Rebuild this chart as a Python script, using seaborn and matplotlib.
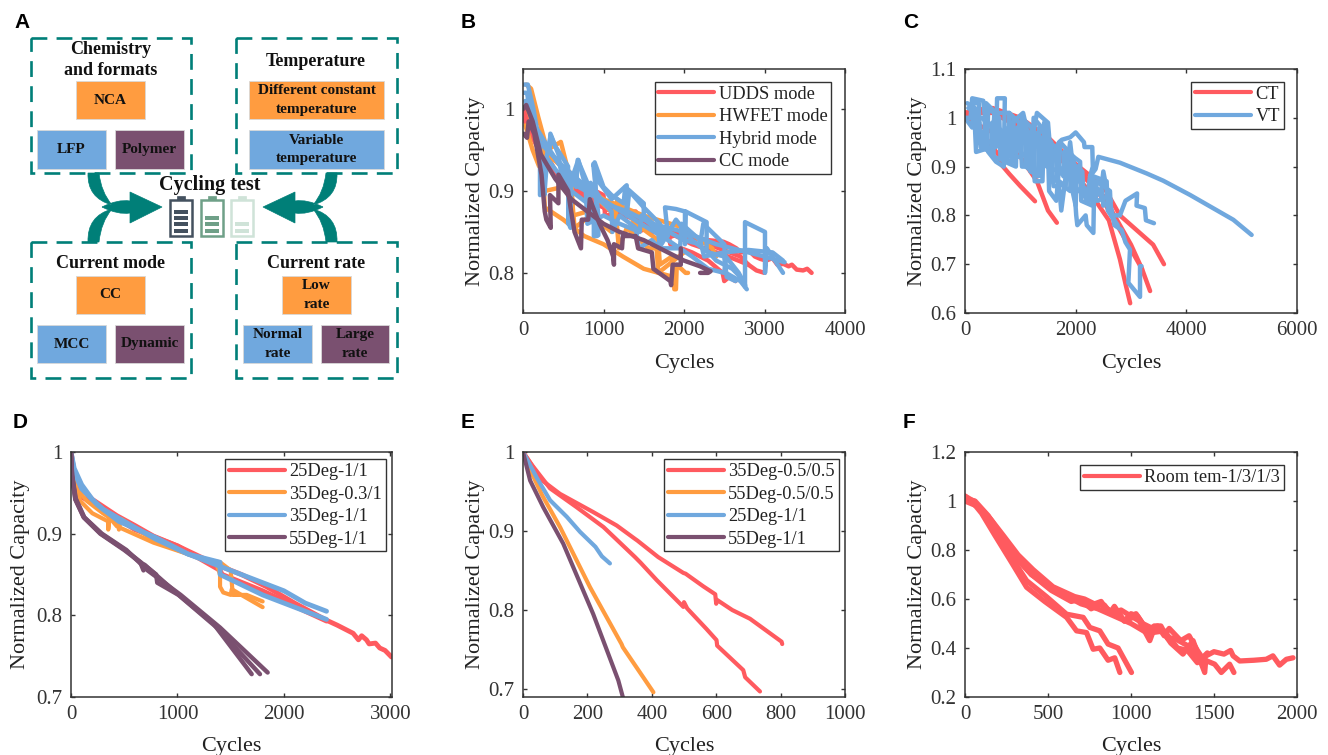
import matplotlib
matplotlib.use("Agg")
import matplotlib.pyplot as plt
from matplotlib.patches import Rectangle, PathPatch
from matplotlib.path import Path
import seaborn as sns

# ---- colours
RED = "#FF5A5F"
ORANGE = "#FF9C40"
BLUE = "#70A8DE"
PURPLE = "#7A5070"
TEAL = "#007F78"

# ---- panel B: capacity fade, drive cycle modes
udds_runs = [
    ([0, 100, 250, 500, 800, 1200, 1600, 2000, 2300, 2490, 2560, 2650, 2700, 2820, 2880, 2950, 3020, 3100, 3160, 3234, 3300, 3340, 3400, 3480, 3530, 3585],
     [1.0, .975, .94, .915, .895, .875, .86, .845, .84, .838, .835, .83, .825, .826, .82, .817, .815, .818, .81, .811, .808, .81, .804, .803, .805, .80]),
    ([0, 120, 300, 600, 1000, 1400, 1800, 2100, 2400, 2600, 2800, 2900, 3000],
     [.99, .965, .93, .90, .88, .865, .85, .835, .825, .818, .81, .803, .80]),
    ([20, 150, 400, 800, 1200, 1350, 1380, 1600, 1800, 1830, 2100, 2300, 2480, 2500, 2560, 2640],
     [1.0, .97, .925, .89, .87, .875, .86, .85, .85, .835, .825, .815, .80, .79, .795, .79]),
    ([900, 1000, 1020, 1400, 1420, 1700, 1720, 2000, 2300, 2700, 2800],
     [.90, .895, .87, .875, .85, .86, .84, .85, .835, .82, .81]),
]
hwfet_runs = [
    ([40, 100, 190, 300, 470, 560, 700, 1000, 1500, 2000, 2200, 2350, 2400],
     [1.03, 1.025, .99, .95, .96, .925, .91, .89, .87, .855, .84, .83, .82]),
    ([30, 120, 200, 240, 270, 500, 760, 1000, 1240, 1500, 1870, 1880, 1900, 1910, 2020, 2050],
     [.98, .95, .93, .95, .88, .865, .845, .835, .82, .805, .795, .78, .78, .81, .80, .80]),
    ([60, 260, 270, 500, 610, 640, 840, 1100, 1150, 1190, 1290, 1560, 1660, 1680, 2000],
     [1.0, .94, .90, .905, .89, .855, .87, .85, .88, .83, .855, .83, .83, .80, .825]),
    ([150, 300, 600, 620, 800, 820, 1150, 1170, 1400, 1680, 1700, 1850, 1870],
     [.98, .945, .92, .87, .875, .90, .87, .89, .86, .84, .81, .82, .79]),
]
hybrid_runs = [
    ([10, 60, 130, 200, 330, 340, 400, 560, 570, 590, 600, 660, 680, 800, 840, 880, 880, 920, 890, 1000, 1100, 1250, 1270, 1500, 1500,
      1800, 1764, 1900, 2012, 2012, 2020, 2281, 2281, 2400, 2600, 2750, 2758, 2758, 3006, 3006, 3030, 3230],
     [1.03, 1.03, 1.0, .96, .95, .97, .955, .93, .86, .855, .92, .905, .938, .91, .885, .86, .845, .845, .935, .905, .895, .885, .905, .885, .87,
      .845, .88, .878, .875, .835, .875, .862, .828, .815, .805, .79, .783, .862, .85, .80, .83, .80]),
    ([5, 50, 100, 200, 250, 265, 300, 450, 600, 800, 840, 1000, 1100, 1110, 1200, 1400, 1440, 1600, 1700, 1720, 2000, 2200, 2240, 2500, 2520, 2700, 2780],
     [1.02, 1.02, .99, .95, .93, .895, .94, .92, .90, .885, .91, .885, .875, .85, .87, .855, .83, .84, .83, .855, .84, .835, .86, .835, .80, .79, .78]),
    ([30, 150, 300, 500, 800, 1000, 1300, 1600, 2000, 2400, 2800, 3000, 3250],
     [1.01, .98, .955, .925, .90, .885, .875, .86, .85, .835, .825, .82, .813]),
    ([200, 500, 900, 1300, 1800, 2100, 2300, 2500, 2520, 2680, 2760],
     [.96, .93, .895, .87, .84, .82, .805, .80, .82, .80, .785]),
    ([100, 211, 211, 300, 344, 440, 470, 563, 563, 590, 687, 780, 800, 936, 936, 873, 950, 1100, 1288, 1288, 1320, 1500, 1700, 1720, 1900, 2100, 2300, 2500, 2530, 2640],
     [.99, .955, .895, .945, .968, .945, .925, .91, .86, .91, .938, .905, .88, .846, .87, .933, .91, .89, .907, .87, .90, .88, .86, .835, .865, .84, .825, .82, .795, .79]),
    ([400, 600, 780, 800, 1000, 1200, 1450, 1470, 1680, 1700, 1950, 1970, 2200, 2250, 2500, 2800, 3100, 3230],
     [.94, .91, .90, .86, .87, .86, .85, .87, .85, .83, .83, .86, .84, .82, .825, .828, .825, .815]),
]
cc_runs = [
    ([10, 50, 70, 140, 230, 270, 290, 345, 335, 440, 440, 560, 590, 640, 720, 730, 810, 830, 950, 1050, 1120, 1130, 1130, 1230, 1240,
      1400, 1430, 1600, 1620, 1830, 1840, 1860, 1960, 1960],
     [.97, .965, .985, .97, .92, .875, .865, .855, .895, .885, .92, .90, .88, .85, .83, .865, .865, .89, .86, .84, .82, .81, .835, .83, .845,
      .845, .83, .825, .805, .79, .785, .81, .81, .83]),
    ([0, 40, 120, 220, 400, 600, 800, 1000, 1200, 1500, 1800, 2000, 2200, 2330, 2300, 2200],
     [1.0, 1.005, .985, .945, .915, .89, .875, .86, .85, .84, .825, .815, .808, .802, .80, .80]),
]

# ---- panel C: temperature
ct_runs = [
    ([0, 300, 600, 650, 800, 1000, 1265], [1.0, .97, .925, .905, .885, .86, .829]),
    ([0, 500, 1000, 1300, 1400, 1500, 1660], [1.0, .97, .92, .87, .84, .81, .785]),
    ([0, 500, 1000, 1500, 2000, 2300, 2600, 2800, 2900, 2985], [1.01, 1.01, .98, .94, .885, .84, .79, .71, .66, .62]),
    ([0, 400, 1000, 1500, 2000, 2500, 2800, 3000, 3200, 3345], [1.01, 1.02, .99, .95, .90, .84, .78, .74, .69, .645]),
    ([0, 500, 1000, 1500, 2000, 2500, 2800, 3100, 3400, 3596], [1.0, 1.02, 1.0, .96, .905, .86, .80, .77, .74, .70]),
    ([0, 450, 1000, 1500, 2000, 2400, 2700, 2950, 3200], [1.01, 1.015, .985, .945, .895, .85, .79, .74, .69]),
]
vt_runs = [
    ([0, 100, 130, 330, 360, 340, 200, 180, 300, 420, 560, 700, 720, 580, 560, 850, 1050, 1150, 1130, 1300, 1500, 1550, 1700, 1750, 1900, 2000, 2150,
      2160, 2300, 2310, 2260, 2360, 2410, 2800, 3283, 3584, 4066, 4850, 5180],
     [1.0, 1.0, 1.04, 1.035, 1.0, .935, .93, .98, .97, .93, .91, .90, 1.04, 1.04, .94, .99, 1.01, .96, .90, 1.01, .99, .92, .95, .955, .96, .97, .95,
      .94, .94, .90, .88, .895, .92, .908, .886, .871, .842, .791, .76]),
    ([0, 130, 150, 250, 270, 500, 530, 800, 830, 1010, 1030, 1200, 1260, 1400, 1430, 1500, 1600, 1700, 1740, 1900, 1950, 2010, 2030, 2180, 2200, 2320, 2330],
     [1.0, .98, 1.03, 1.03, .95, .95, 1.01, 1.01, .92, .92, 1.0, .98, .87, .87, .99, .97, .86, .86, .81, .95, .90, .80, .78, .80, .78, .764, .83]),
    ([300, 500, 520, 760, 780, 1000, 1030, 1250, 1270, 1500, 1520, 1650, 1700, 1780, 1790, 2000, 2020, 2200, 2260, 2450, 2500, 2650, 2800, 2900, 3110, 3100, 3250, 3270, 3415],
     [1.0, .98, .92, .91, .98, .96, .90, .90, .97, .93, .85, .83, .90, .88, .93, .82, .90, .83, .88, .84, .89, .80, .80, .83, .845, .82, .815, .79, .784]),
    ([1800, 2000, 2200, 2400, 2600, 2700, 2830, 2900, 2982, 2952, 3163, 3163, 3190],
     [.92, .88, .85, .83, .84, .78, .77, .745, .73, .662, .633, .696, .696]),
    ([60, 200, 220, 400, 420, 620, 640, 860, 880, 1080, 1100, 1320, 1340, 1560, 1580, 1820, 1840, 2080, 2100, 2300, 2320, 2560, 2580, 2700],
     [1.02, 1.01, .95, .94, 1.02, 1.0, .92, .91, 1.0, .98, .90, .88, .98, .95, .88, .86, .93, .91, .83, .82, .88, .87, .81, .79]),
    ([120, 260, 280, 470, 490, 700, 720, 920, 940, 1160, 1180, 1380, 1400, 1640, 1660, 1900, 1920, 2120, 2140, 2360, 2380, 2620, 2640, 2760],
     [1.0, .99, .94, .93, .99, .97, .91, .90, .98, .97, .89, .88, .96, .94, .87, .85, .91, .89, .84, .83, .87, .85, .80, .78]),
    ([40, 180, 200, 360, 380, 560, 580, 780, 800, 980, 1000, 1220, 1240, 1460, 1480, 1700, 1720, 1960, 1980, 2240, 2260, 2480, 2500, 2640],
     [1.03, 1.02, .97, .96, 1.03, 1.01, .95, .94, 1.01, .99, .93, .91, 1.0, .97, .90, .89, .95, .92, .86, .83, .86, .85, .82, .83]),
]

# ---- panel D: 25/35/55 degree cells at 1C
d_25_runs = [
    ([0, 30, 87, 200, 431, 600, 775, 1000, 1369, 1600, 1837, 2100, 2400, 2500, 2650, 2700, 2730, 2775, 2800, 2860, 2900, 2950, 3010],
     [1.0, .975, .957, .942, .922, .91, .897, .885, .862, .85, .835, .815, .794, .788, .778, .77, .775, .77, .765, .766, .76, .757, .749]),
    ([0, 30, 100, 300, 600, 1000, 1400, 1420, 1800, 2200, 2400],
     [.99, .965, .945, .93, .905, .885, .855, .85, .83, .805, .793]),
]
d_35_03_runs = [
    ([0, 30, 87, 200, 350, 350, 360, 431, 775, 1100, 1369, 1400, 1400, 1430, 1500, 1510, 1600, 1800],
     [1.0, .965, .94, .925, .915, .905, .92, .909, .889, .875, .862, .85, .835, .828, .825, .832, .825, .81]),
    ([10, 50, 150, 300, 450, 450, 470, 800, 1200, 1400, 1500, 1520, 1650, 1800],
     [.97, .955, .94, .925, .912, .905, .918, .89, .87, .865, .855, .825, .825, .817]),
]
d_35_1_runs = [
    ([0, 30, 100, 200, 300, 500, 800, 1100, 1400, 1700, 2000, 2200, 2400],
     [1.0, .98, .96, .942, .93, .915, .893, .875, .86, .845, .83, .815, .805]),
    ([0, 30, 100, 250, 450, 800, 1100, 1400, 1400, 1800, 2100, 2400],
     [1.0, .975, .955, .935, .915, .895, .875, .865, .85, .825, .81, .795]),
]
d_55_runs = [
    ([0, 9, 40, 119, 275, 500, 650, 681, 690, 994, 1337, 1697], [1.0, .971, .942, .92, .90, .88, .865, .855, .862, .827, .79, .728]),
    ([0, 10, 42, 122, 280, 510, 800, 810, 1010, 1370, 1775], [1.0, .971, .942, .92, .90, .88, .85, .84, .825, .785, .728]),
    ([0, 10, 45, 125, 290, 520, 720, 1030, 1400, 1847], [1.0, .972, .943, .92, .90, .88, .855, .825, .785, .73]),
]

# ---- panel E: cycle counts at 0.5C and 1C
e_35_runs = [
    ([0, 25, 53, 115, 218, 291, 348, 355, 420, 498, 505, 560, 597, 600, 602, 650, 705, 803, 805],
     [1.0, .985, .966, .947, .924, .907, .89, .888, .867, .847, .846, .83, .82, .808, .813, .80, .789, .76, .757]),
    ([0, 25, 84, 167, 250, 348, 365, 415, 498, 500, 510, 570, 601, 603, 684, 690, 736],
     [1.0, .985, .954, .93, .905, .867, .86, .838, .804, .81, .802, .776, .762, .755, .724, .715, .697]),
]
e_55_05_runs = [([0, 25, 60, 115, 208, 306, 310, 390, 405], [1.0, .975, .945, .905, .829, .757, .753, .705, .696])]
e_25_runs = [([0, 20, 42, 84, 136, 177, 225, 245, 270], [1.0, .985, .968, .939, .918, .899, .88, .868, .859])]
e_55_1_runs = [([0, 22, 63, 125, 218, 296, 310], [1.0, .964, .93, .884, .795, .711, .69])]

# ---- panel F: room temperature, 1/3C
room_runs = [
    ([0, 40, 100, 180, 280, 371, 480, 612, 672, 732, 772, 812, 862, 902, 933],
     [1.0, 1.0, .95, .86, .75, .648, .59, .525, .47, .463, .395, .40, .35, .36, .30]),
    ([0, 50, 120, 190, 290, 371, 490, 612, 712, 752, 812, 862, 922, 1003],
     [1.02, .99, .95, .87, .76, .675, .61, .538, .525, .484, .47, .416, .40, .30]),
    ([0, 60, 140, 220, 300, 380, 500, 612, 700, 760, 812, 880, 900, 960, 1013, 1050, 1113, 1140, 1173, 1240, 1313, 1374, 1410, 1444, 1450],
     [1.01, 1.0, .94, .85, .79, .716, .66, .607, .595, .56, .58, .55, .57, .51, .525, .51, .43, .48, .485, .42, .375, .43, .36, .30, .35]),
    ([0, 70, 160, 240, 330, 400, 520, 640, 700, 760, 820, 860, 920, 960, 1000, 1040, 1100, 1140, 1180, 1220, 1260, 1340, 1400, 1454, 1504, 1544, 1594, 1620],
     [1.0, .98, .92, .84, .75, .70, .635, .59, .60, .575, .59, .55, .54, .51, .54, .53, .47, .49, .49, .44, .44, .41, .37, .348, .334, .30, .334, .30]),
    ([0, 50, 150, 230, 320, 410, 530, 660, 720, 780, 840, 880, 940, 1000, 1030, 1070, 1130, 1160, 1200, 1230, 1300, 1350, 1400, 1430, 1500, 1560, 1600, 1615, 1655, 1740, 1815, 1855, 1895, 1936, 1976],
     [1.02, 1.0, .93, .86, .78, .72, .65, .61, .60, .58, .575, .54, .555, .53, .54, .50, .48, .49, .45, .48, .43, .45, .39, .36, .385, .375, .39, .368, .347, .35, .354, .368, .33, .354, .36]),
    ([100, 250, 400, 560, 700, 800, 900, 1000, 1100, 1200, 1280, 1340, 1400, 1460],
     [.96, .82, .70, .63, .58, .56, .53, .50, .46, .47, .40, .39, .34, .38]),
]

# ---- panel A text
chem_names = ["NCA", "LFP", "Polymer"]
temp_names = ["Different constant\ntemperature", "Variable\ntemperature"]
mode_names = ["CC", "MCC", "Dynamic"]
rate_names = ["Low\nrate", "Normal\nrate", "Large\nrate"]
group_titles = ["Chemistry\nand formats", "Temperature", "Current mode", "Current rate"]

W, H = 1328, 755
SERIF = "Liberation Serif"

sns.set_theme(style="ticks")
plt.rcParams["font.family"] = [SERIF, "DejaVu Sans"]
plt.rcParams["axes.edgecolor"] = "#333333"
plt.rcParams["text.color"] = "#222222"
plt.rcParams["axes.labelcolor"] = "#222222"
plt.rcParams["xtick.color"] = "#333333"
plt.rcParams["ytick.color"] = "#333333"

fig = plt.figure(figsize=(W / 100, H / 100), dpi=100)


def add_panel(l, t, r, b):
    return fig.add_axes([l / W, 1 - b / H, (r - l) / W, (b - t) / H])


def draw_runs(ax, runs, color, label, lw=3.2):
    for i, (xs, ys) in enumerate(runs):
        sns.lineplot(x=xs, y=ys, ax=ax, color=color, linewidth=lw, sort=False, estimator=None,
                     errorbar=None, label=label if i == 0 else None, legend=False)


def finish(ax, xlim, ylim, xticks, yticks, xlabels, ylabels, box, ylab_x, xlab_y):
    ax.set_xlim(*xlim)
    ax.set_ylim(*ylim)
    ax.set_xticks(xticks, xlabels)
    ax.set_yticks(yticks, ylabels)
    ax.tick_params(direction="in", top=True, right=True, length=3, width=1, labelsize=15, pad=6)
    ax.set_xlabel("Cycles", fontsize=16)
    ax.set_ylabel("Normalized Capacity", fontsize=16)
    ax.xaxis.set_label_coords(0.5, xlab_y)
    ax.yaxis.set_label_coords(ylab_x, 0.5)
    for s in ax.spines.values():
        s.set_linewidth(1.1)
    # legend box from the top right corner, in axes fractions
    leg = ax.legend(loc="upper right", bbox_to_anchor=box, fontsize=13.2, frameon=True, fancybox=False,
                    edgecolor="#333333", framealpha=1, handlelength=3.05, handletextpad=0.25,
                    borderpad=0.2, labelspacing=0.3, borderaxespad=0)
    leg.get_frame().set_linewidth(1.0)
    for h in leg.get_lines():
        h.set_linewidth(3.0)


# ---- B
ax_b = add_panel(523, 69, 845, 313)
draw_runs(ax_b, udds_runs, RED, "UDDS mode")
draw_runs(ax_b, hwfet_runs, ORANGE, "HWFET mode")
draw_runs(ax_b, hybrid_runs, BLUE, "Hybrid mode")
draw_runs(ax_b, cc_runs, PURPLE, "CC mode")
finish(ax_b, (0, 4000), (.751, 1.049), [0, 1000, 2000, 3000, 4000], [.8, .9, 1],
       ["0", "1000", "2000", "3000", "4000"], ["0.8", "0.9", "1"], (0.957, 0.947), -0.118, -0.167)

# ---- C
ax_c = add_panel(965, 69, 1297, 313)
draw_runs(ax_c, ct_runs, RED, "CT")
draw_runs(ax_c, vt_runs, BLUE, "VT")
finish(ax_c, (0, 6000), (.6, 1.1), [0, 2000, 4000, 6000], [.6, .7, .8, .9, 1, 1.1],
       ["0", "2000", "4000", "6000"], ["0.6", "0.7", "0.8", "0.9", "1", "1.1"], (0.96, 0.947), -0.114, -0.167)

# ---- D
ax_d = add_panel(71, 452, 392, 697)
draw_runs(ax_d, d_25_runs, RED, "25Deg-1/1", lw=3.5)
draw_runs(ax_d, d_35_03_runs, ORANGE, "35Deg-0.3/1", lw=3.0)
draw_runs(ax_d, d_35_1_runs, BLUE, "35Deg-1/1", lw=3.5)
draw_runs(ax_d, d_55_runs, PURPLE, "55Deg-1/1", lw=3.2)
finish(ax_d, (0, 3015), (.7, 1.0), [0, 1000, 2000, 3000], [.7, .8, .9, 1],
       ["0", "1000", "2000", "3000"], ["0.7", "0.8", "0.9", "1"], (0.98, 0.97), -0.128, -0.163)

# ---- E
ax_e = add_panel(523, 452, 845, 697)
draw_runs(ax_e, e_35_runs, RED, "35Deg-0.5/0.5", lw=3.0)
draw_runs(ax_e, e_55_05_runs, ORANGE, "55Deg-0.5/0.5", lw=3.0)
draw_runs(ax_e, e_25_runs, BLUE, "25Deg-1/1", lw=3.0)
draw_runs(ax_e, e_55_1_runs, PURPLE, "55Deg-1/1", lw=3.0)
finish(ax_e, (0, 1000), (.69, 1.0), [0, 200, 400, 600, 800, 1000], [.7, .8, .9, 1],
       ["0", "200", "400", "600", "800", "1000"], ["0.7", "0.8", "0.9", "1"], (0.98, 0.97), -0.118, -0.163)

# ---- F
ax_f = add_panel(965, 452, 1297, 697)
draw_runs(ax_f, room_runs, RED, "Room tem-1/3/1/3", lw=3.8)
finish(ax_f, (0, 2000), (.2, 1.2), [0, 500, 1000, 1500, 2000], [.2, .4, .6, .8, 1, 1.2],
       ["0", "500", "1000", "1500", "2000"], ["0.2", "0.4", "0.6", "0.8", "1", "1.2"], (0.96, 0.945), -0.114, -0.163)

# ---- A: schematic, drawn on a figure-wide overlay in pixel coordinates
ov = fig.add_axes([0, 0, 1, 1], zorder=5)
ov.set_xlim(0, W)
ov.set_ylim(H, 0)
ov.axis("off")
ov.patch.set_alpha(0)

for l, t, r, b in [(31, 38, 191, 173), (236, 38, 397, 173), (31, 242, 191, 378), (236, 242, 397, 378)]:
    ov.add_patch(Rectangle((l, t), r - l, b - t, fill=False, ec=TEAL, lw=1.9, ls=(0, (6, 3.5))))


def tag(x0, y0, x1, y1, color, text):
    ov.add_patch(Rectangle((x0, y0), x1 - x0, y1 - y0, fc=color, ec="#D8D8D8", lw=0.6))
    ov.text((x0 + x1) / 2, (y0 + y1) / 2, text, ha="center", va="center", fontsize=11, fontweight="bold",
            color="#111111", linespacing=1.55)


tag(76, 81, 145, 119, ORANGE, chem_names[0])
tag(37, 130, 106, 169, BLUE, chem_names[1])
tag(115, 130, 184, 169, PURPLE, chem_names[2])
tag(249, 81, 384, 119, ORANGE, temp_names[0])
tag(249, 130, 384, 169, BLUE, temp_names[1])
tag(76, 276, 145, 314, ORANGE, mode_names[0])
tag(37, 325, 106, 363, BLUE, mode_names[1])
tag(115, 325, 184, 363, PURPLE, mode_names[2])
tag(282, 276, 351, 314, ORANGE, rate_names[0])
tag(243, 325, 312, 363, BLUE, rate_names[1])
tag(321, 325, 389, 363, PURPLE, rate_names[2])

for x, y, txt in zip([111, 316, 111, 316], [60, 61, 263, 263], group_titles):
    ov.text(x, y, txt, ha="center", va="center", fontsize=13, fontweight="bold", color="#111111", linespacing=1.35)
ov.text(210, 185, "Cycling test", ha="center", va="center", fontsize=14.5, fontweight="bold", color="#111111")


# teal arrows, the right one mirrored from the left
def arrow(mx):
    f = (lambda x: x) if mx is None else (lambda x: mx - x)
    V = [(f(88), 173), (f(87), 198), (f(112), 205), (f(101), 192), (f(99), 173), (f(88), 173),
         (f(88), 242), (f(87), 216), (f(112), 209), (f(101), 222), (f(99), 242), (f(88), 242),
         (f(102), 207), (f(118), 199), (f(130), 201), (f(130), 192), (f(162), 207), (f(130), 223), (f(130), 213), (f(118), 215), (f(102), 207)]
    C = [Path.MOVETO, Path.CURVE3, Path.CURVE3, Path.CURVE3, Path.CURVE3, Path.CLOSEPOLY,
         Path.MOVETO, Path.CURVE3, Path.CURVE3, Path.CURVE3, Path.CURVE3, Path.CLOSEPOLY,
         Path.MOVETO, Path.CURVE3, Path.CURVE3, Path.LINETO, Path.LINETO, Path.LINETO, Path.LINETO, Path.CURVE3, Path.CURVE3]
    ov.add_patch(PathPatch(Path(V, C), fc=TEAL, ec=TEAL, lw=0.5))


arrow(None)
arrow(425)

# battery icons
for x0, col, bars in [(170, "#44515F", [212, 218, 224, 231]), (201, "#6FA088", [218, 224, 231]), (231, "#CFE3D8", [224, 231])]:
    ov.add_patch(Rectangle((x0, 200), 22, 36, fill=False, ec=col, lw=1.8))
    ov.add_patch(Rectangle((x0 + 7, 196), 8, 4, fc=col, ec=col, lw=0.5))
    for by in bars:
        ov.add_patch(Rectangle((x0 + 4, by - 2), 14, 4, fc=col, ec="none"))

# panel letters
for x, y, s in zip([14, 461, 903, 13, 461, 903], [22, 22, 22, 423, 423, 423], "ABCDEF"):
    ov.text(x, y, s, ha="left", va="center", fontsize=15, fontweight="bold", family="Liberation Sans", color="#000000")

fig.savefig("out.png", dpi=100)
